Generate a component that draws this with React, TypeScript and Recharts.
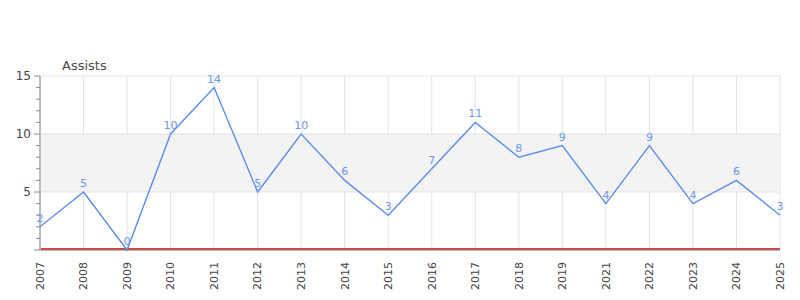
import React from 'react';
import { LineChart, Line, XAxis, YAxis, CartesianGrid, ReferenceArea, ReferenceLine, LabelList } from 'recharts';

const years = ['2007','2008','2009','2010','2011','2012','2013','2014','2015','2016','2017','2018','2019','2021','2022','2023','2024','2025'];
const assists = [2,5,0,10,14,5,10,6,3,7,11,8,9,4,9,4,6,3];
const yTicks = [0,1,2,3,4,5,6,7,8,9,10,11,12,13,14,15];
const majorTicks = [5,10,15];
const title = 'Assists';

const data = years.map((y, i) => ({ year: y, assists: assists[i] }));

const FONT = '"DejaVu Sans", sans-serif';

const YTick = (props: any) => {
  const { x, y, payload } = props;
  const v = payload.value;
  const major = v % 5 === 0;
  return (
    <g>
      <line x1={x - (major ? 6 : 4)} x2={x} y1={y} y2={y} stroke="#888" strokeWidth={1} />
      {major && v > 0 && (
        <text x={x - 9} y={y} dy="0.35em" textAnchor="end" fontSize={12} fill="#444" fontFamily={FONT}>{v}</text>
      )}
    </g>
  );
};

const XTick = (props: any) => {
  const { x, y, payload } = props;
  const ty = y + 12;
  return (
    <text x={x} y={ty} dy="0.35em" textAnchor="end" transform={`rotate(-90, ${x}, ${ty})`} fontSize={11} fill="#444" fontFamily={FONT}>{payload.value}</text>
  );
};

const RedBase = (props: any) => {
  const { x1, x2, y1 } = props;
  return <line x1={x1 + 1} x2={x2} y1={y1 - 1} y2={y1 - 1} stroke="#dd0000" strokeWidth={1.6} />;
};

export default function App() {
  return (
    <div style={{ position: 'absolute', left: 0, top: 0, width: 800, height: 300, background: '#fff' }}>
      <LineChart width={800} height={300} data={data} margin={{ top: 76, right: 20, bottom: 0, left: 0 }}>
        <ReferenceArea y1={5} y2={10} fill="#f3f3f3" fillOpacity={1} stroke="none" ifOverflow="hidden" />
        <CartesianGrid horizontal={false} vertical={true} stroke="#e3e3e3" />
        {majorTicks.map((t) => (
          <ReferenceLine key={t} y={t} stroke="#e3e3e3" />
        ))}
        <XAxis dataKey="year" type="category" scale="point" padding={{ left: 0, right: 0 }} height={50} tickLine={false} tickSize={0} tickMargin={0} axisLine={{ stroke: '#777' }} tick={<XTick />} interval={0} />
        <YAxis type="number" domain={[0, 15]} ticks={yTicks} width={40} tickLine={false} tickSize={0} tickMargin={0} axisLine={{ stroke: '#888' }} tick={<YTick />} interval={0} />
        <ReferenceLine y={0} stroke="#dd0000" shape={(p: any) => <RedBase {...p} />} />
        <Line type="linear" dataKey="assists" stroke="#5b8def" strokeWidth={1.4} dot={false} isAnimationActive={false}>
          <LabelList dataKey="assists" position="top" offset={5} fill="#6d98e8" fontSize={11} fontFamily={FONT} />
        </Line>
        <text x={62} y={70} fontSize={13} fill="#4a4a4a" fontFamily={FONT}>{title}</text>
      </LineChart>
    </div>
  );
}
